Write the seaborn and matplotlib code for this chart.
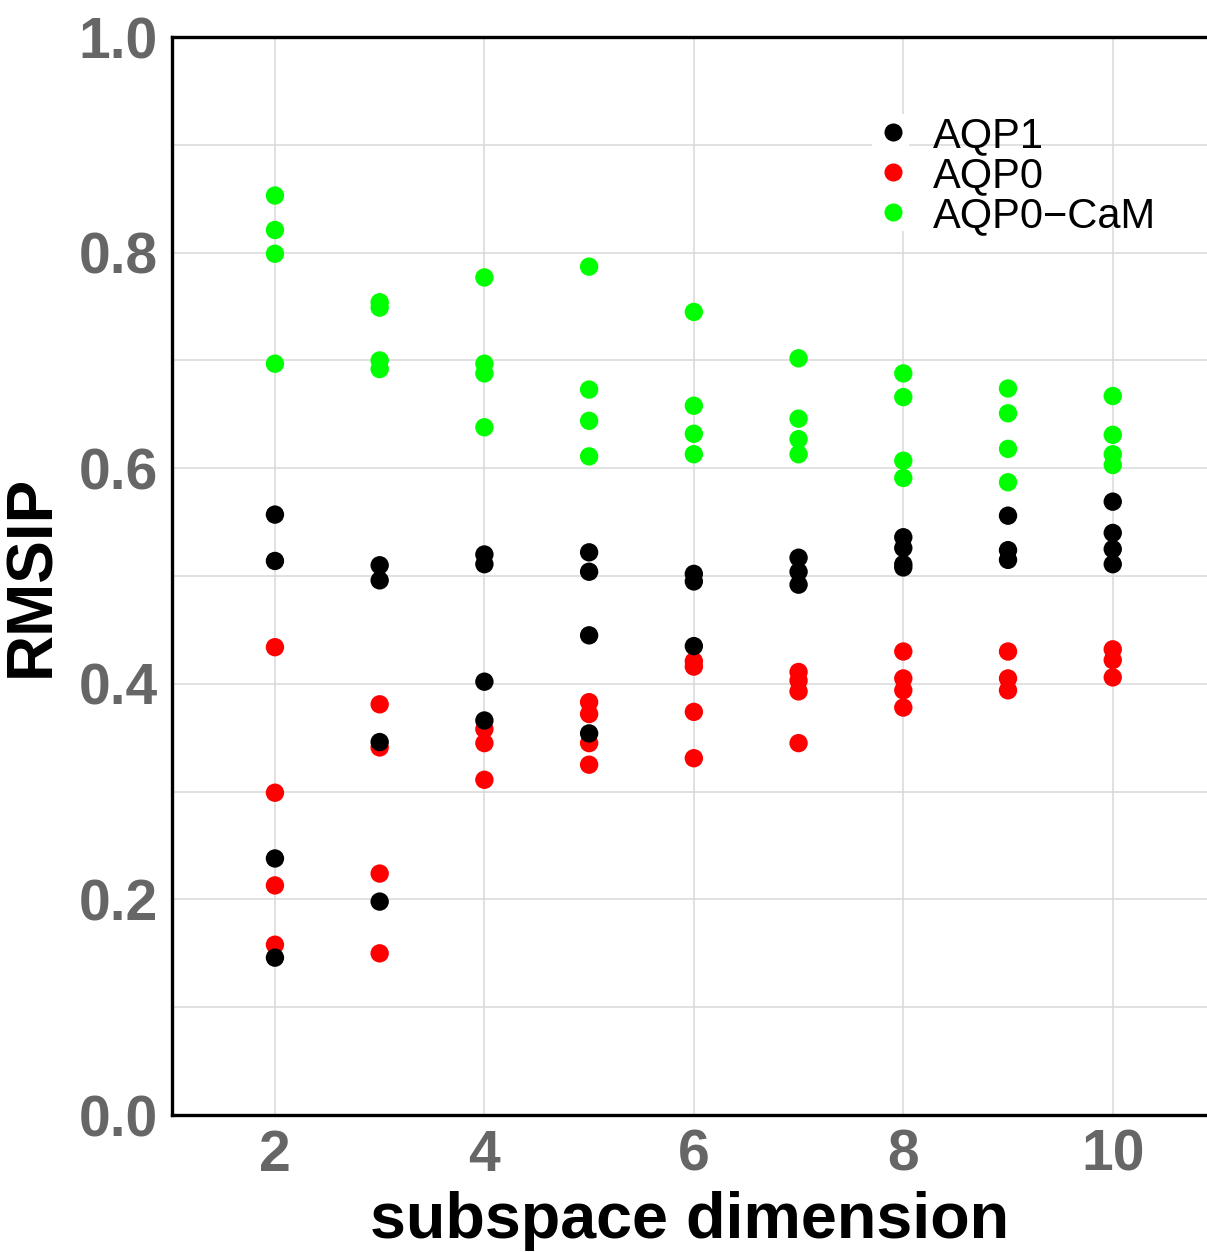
import matplotlib
matplotlib.use("Agg")
import matplotlib.pyplot as plt
from matplotlib.lines import Line2D
from matplotlib.patches import Rectangle
import seaborn as sns
import pandas as pd

# RMSIP between subspaces of increasing dimension, four comparisons per system
dims = [2, 3, 4, 5, 6, 7, 8, 9, 10]

aqp1 = [
    [0.557, 0.514, 0.238, 0.146],
    [0.510, 0.496, 0.346, 0.198],
    [0.520, 0.511, 0.402, 0.366],
    [0.522, 0.504, 0.445, 0.354],
    [0.502, 0.495, 0.435],
    [0.517, 0.504, 0.492],
    [0.536, 0.526, 0.511, 0.508],
    [0.556, 0.524, 0.515],
    [0.569, 0.540, 0.525, 0.511],
]

aqp0 = [
    [0.434, 0.299, 0.213, 0.158],
    [0.381, 0.341, 0.224, 0.150],
    [0.358, 0.345, 0.311],
    [0.383, 0.372, 0.345, 0.325],
    [0.421, 0.416, 0.374, 0.331],
    [0.411, 0.403, 0.393, 0.345],
    [0.430, 0.405, 0.394, 0.378],
    [0.430, 0.405, 0.394],
    [0.432, 0.422, 0.406],
]

aqp0_cam = [
    [0.853, 0.821, 0.799, 0.697],
    [0.754, 0.749, 0.700, 0.692],
    [0.777, 0.697, 0.688, 0.638],
    [0.787, 0.673, 0.644, 0.611],
    [0.745, 0.658, 0.632, 0.613],
    [0.702, 0.646, 0.627, 0.613],
    [0.688, 0.666, 0.607, 0.591],
    [0.674, 0.651, 0.618, 0.587],
    [0.667, 0.631, 0.613, 0.603],
]

systems = ["AQP1", "AQP0", "AQP0\u2212CaM"]
colors = {"AQP1": "#000000", "AQP0": "#FF0000", "AQP0\u2212CaM": "#00FF00"}

# long table; AQP1 rows last so black points sit on top
rows = []
for name, series in [("AQP0\u2212CaM", aqp0_cam), ("AQP0", aqp0), ("AQP1", aqp1)]:
    for d, vals in zip(dims, series):
        for v in vals:
            rows.append({"dim": d, "rmsip": v, "system": name})
df = pd.DataFrame(rows)

sns.set_theme(style="whitegrid")
plt.rcParams["font.family"] = ["Liberation Sans", "DejaVu Sans"]

fig = plt.figure(figsize=(12.07, 12.52), dpi=100)
ax = fig.add_axes([0.1425, 0.1094, 0.8575, 0.8610])

sns.scatterplot(data=df, x="dim", y="rmsip", hue="system", hue_order=systems,
                palette=colors, s=175, linewidth=0, legend=False, ax=ax, zorder=3)

ax.set_xlim(1.017, 10.9)
ax.set_ylim(0, 1.0)
ax.set_xticks([2, 4, 6, 8, 10])
ax.set_yticks([0.0, 0.2, 0.4, 0.6, 0.8, 1.0])
ax.set_yticks([0.1, 0.3, 0.5, 0.7, 0.9], minor=True)
ax.yaxis.set_major_formatter(matplotlib.ticker.FormatStrFormatter("%.1f"))

ax.grid(True, which="major", color="#D9D9D9", linewidth=1.1)
ax.grid(True, which="minor", axis="y", color="#D9D9D9", linewidth=1.1)
ax.set_axisbelow(True)
ax.set_facecolor("white")

for side in ["left", "top", "bottom"]:
    ax.spines[side].set_visible(True)
    ax.spines[side].set_color("black")
    ax.spines[side].set_linewidth(2.4)
ax.spines["right"].set_visible(False)

ax.tick_params(axis="both", which="major", length=5, width=1.3, color="#333333",
               labelsize=41, labelcolor="#666666", pad=5)
ax.tick_params(axis="both", which="minor", length=0)
for lab in ax.get_xticklabels() + ax.get_yticklabels():
    lab.set_fontweight("bold")

ax.set_xlabel("subspace dimension", fontsize=46.5, fontweight="bold", color="black", labelpad=6)
ax.set_ylabel("RMSIP", fontsize=46, fontweight="bold", color="black", labelpad=12)

# white key background of the legend, covering the grid behind the symbols
ax.add_patch(Rectangle((0.676, 0.820), 0.0365, 0.109, transform=ax.transAxes,
                       facecolor="white", edgecolor="none", zorder=1))

handles = [Line2D([], [], linestyle="none", marker="o", markersize=13,
                  markerfacecolor=colors[n], markeredgewidth=0) for n in systems]
leg = ax.legend(handles, systems, loc="upper left", bbox_to_anchor=(0.672, 0.927),
                frameon=False, fontsize=30, handlelength=1.2, handletextpad=0.36,
                labelspacing=0.0, borderpad=0, borderaxespad=0)
for t in leg.get_texts():
    t.set_color("black")

fig.savefig("out.png", dpi=100)
